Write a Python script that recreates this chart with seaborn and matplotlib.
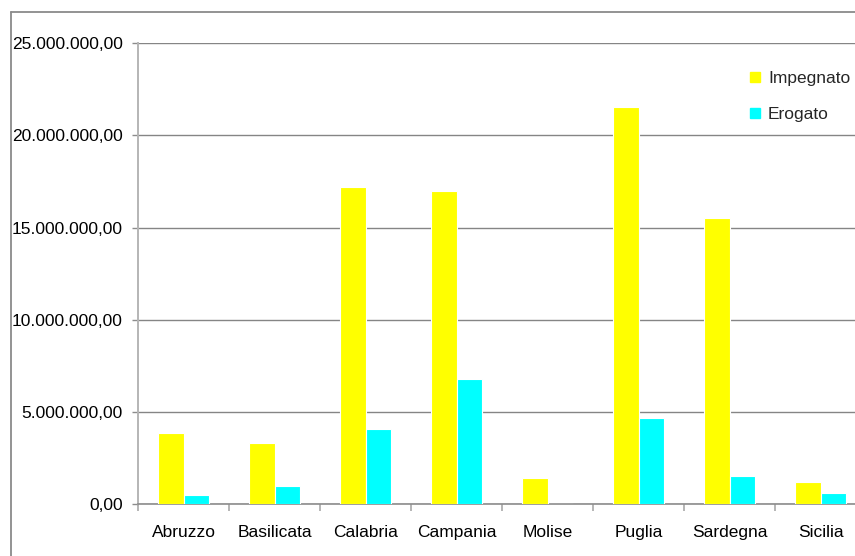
import matplotlib
matplotlib.use("Agg")
import matplotlib.pyplot as plt
from matplotlib.lines import Line2D
from matplotlib.ticker import FuncFormatter, FixedLocator
import seaborn as sns
import pandas as pd

regioni = ["Abruzzo", "Basilicata", "Calabria", "Campania", "Molise", "Puglia", "Sardegna", "Sicilia"]
impegnato = [3830000, 3310000, 17180000, 16960000, 1410000, 21570000, 15500000, 1190000]
erogato = [470000, 990000, 4050000, 6780000, 0, 4660000, 1520000, 580000]
serie = ["Impegnato", "Erogato"]
colori = ["#FFFF00", "#00FFFF"]
y_ticks = [0, 5000000, 10000000, 15000000, 20000000, 25000000]

df = pd.DataFrame({
    "Regione": regioni * 2,
    "Valore": impegnato + erogato,
    "Serie": [serie[0]] * len(regioni) + [serie[1]] * len(regioni),
})

sns.set_style("white")
plt.rcParams["font.family"] = ["Liberation Sans", "DejaVu Sans"]

W, H = 855, 556
fig = plt.figure(figsize=(W / 100, H / 100), dpi=100)
fig.patch.set_facecolor("white")

# plot area runs past the right edge of the canvas
ax = fig.add_axes([138 / W, 52 / H, 728 / W, 460.7 / H])

sns.barplot(data=df, x="Regione", y="Valore", hue="Serie", palette=colori,
            width=0.57, edgecolor="white", linewidth=0.8, saturation=1,
            errorbar=None, ax=ax, zorder=3)

ax.set_ylim(0, 25000000)
ax.set_xlim(-0.5, len(regioni) - 0.5)
ax.set_xlabel("")
ax.set_ylabel("")


def euro(v, _pos):
    s = f"{v:,.2f}"
    return s.replace(",", "X").replace(".", ",").replace("X", ".")


ax.yaxis.set_major_locator(FixedLocator(y_ticks))
ax.yaxis.set_major_formatter(FuncFormatter(euro))
ax.grid(axis="y", color="#858585", linewidth=1.0, zorder=0)
ax.set_axisbelow(True)

for side in ["top", "right"]:
    ax.spines[side].set_visible(False)
ax.spines["left"].set_color("#b5b5b5")
ax.spines["left"].set_linewidth(1.4)
ax.spines["bottom"].set_color("#8c8c8c")
ax.spines["bottom"].set_linewidth(1.2)

ax.tick_params(axis="y", left=True, length=4, width=1, color="#8c8c8c",
               pad=7, labelsize=12.5, labelcolor="black")
ax.set_xticks(range(len(regioni)))
ax.set_xticklabels(regioni)
ax.set_xticks([i - 0.5 for i in range(len(regioni) + 1)], minor=True)
ax.tick_params(axis="x", which="major", length=0, pad=15, labelsize=12.5,
               labelcolor="black")
ax.tick_params(axis="x", which="minor", bottom=True, length=5, width=1.4,
               color="#b5b5b5")

handles = [Line2D([], [], marker="s", linestyle="", markersize=6.5,
                  markerfacecolor=c, markeredgecolor=c) for c in colori]
ax.legend(handles, serie, loc="upper left", bbox_to_anchor=(749 / W, 1 - 71 / H),
          bbox_transform=fig.transFigure, frameon=False, fontsize=12.5,
          handlelength=0.7, handletextpad=0.4, labelspacing=1.17,
          borderpad=0, borderaxespad=0)

# outer chart frame (left and top edges)
fig.add_artist(Line2D([10.5 / W, 10.5 / W], [0, 1 - 12 / H], transform=fig.transFigure,
                      color="#8a8a8a", linewidth=1.3))
fig.add_artist(Line2D([10.5 / W, 1], [1 - 12 / H, 1 - 12 / H], transform=fig.transFigure,
                      color="#8a8a8a", linewidth=1.3))

fig.savefig("out.png", dpi=100, facecolor="white")
